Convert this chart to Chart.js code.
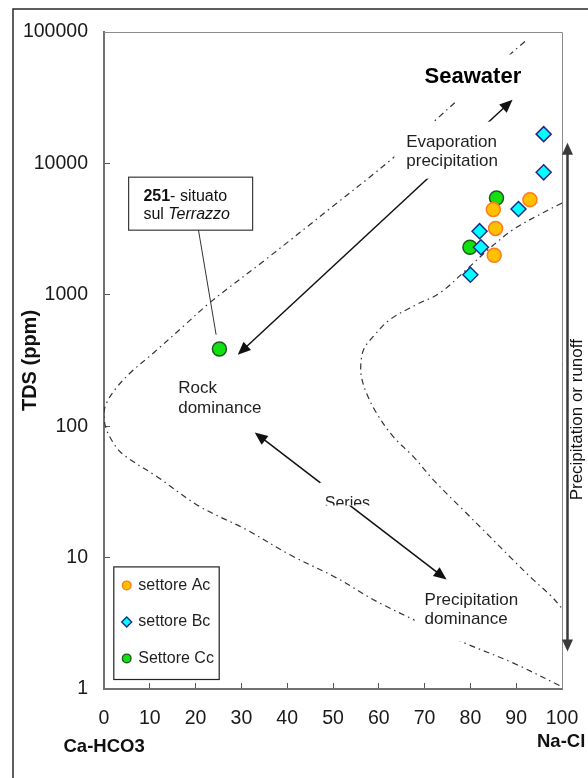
<!DOCTYPE html>
<html>
<head>
<meta charset="utf-8">
<title>Gibbs diagram - TDS vs Na/(Na+Ca)</title>
<script src="https://cdn.jsdelivr.net/npm/chart.js@4/dist/chart.umd.min.js"></script>
<style>
  html, body { margin: 0; padding: 0; background: #fff; overflow: hidden; }
  #wrap { width: 588px; height: 778px; position: relative; }
</style>
</head>
<body>
<div id="wrap"><canvas id="c" width="588" height="778"></canvas></div>
<script>
// ---- axis ticks ----
const xTickValues = [0, 10, 20, 30, 40, 50, 60, 70, 80, 90, 100];
const yTickValues = [1, 10, 100, 1000, 10000, 100000];

// ---- samples: ratio (%) and TDS (ppm) ----
const settoreAcRatio = [93.0, 85.0, 85.5, 85.2];
const settoreAcTds   = [5300, 4450, 3200, 2000];
const settoreBcRatio = [96.0, 96.0, 90.5, 82.0, 82.3, 80.0];
const settoreBcTds   = [16700, 8550, 4500, 3050, 2300, 1420];
const settoreCcRatio = [85.7, 79.9, 25.2];
const settoreCcTds   = [5450, 2300, 387];

// ---- Gibbs envelope boundaries ----
const leftBoundaryRatio = [91.9, 78.3, 63.1, 49.3, 35.5, 23.1, 17.3, 10.8, 5.7, 2.4, 0.4, 0.0, 0.4, 2.0, 4.2, 11.5, 20.9, 31.1, 40.6, 50.8, 60.2, 78.0, 89.3, 100];
const leftBoundaryTds   = [84700, 32700, 11000, 4520, 1880, 871, 575, 361, 254, 190, 146, 122, 97.5, 75, 60.8, 41.5, 24.5, 16.3, 10.5, 7.0, 4.51, 2.30, 1.58, 1.04];
const rightBoundaryRatio = [100, 95.1, 89.3, 83.9, 79.1, 73.3, 68.2, 62.4, 58.8, 56.7, 56.1, 56.2, 57.3, 59.5, 63.1, 67.5, 71.9, 78.4, 84.2, 89.3, 93.7, 97.7, 100];
const rightBoundaryTds   = [5000, 4080, 3130, 2210, 1550, 1030, 841, 647, 482, 384, 303, 239, 179, 126, 83.6, 58.9, 39.1, 23.1, 14.5, 9.6, 6.8, 5.07, 4.1];

const FONT = "'Liberation Sans', Arial, Helvetica, sans-serif";
const TEXT = '#1f1f1f';

const pairs = (xs, ys) => xs.map((x, i) => ({ x: x, y: ys[i] }));

function arrow(ctx, x1, y1, x2, y2, o) {
  const w = o.width || 1.5, head = o.head || 12, half = o.half || 5;
  const ang = Math.atan2(y2 - y1, x2 - x1);
  const cx = Math.cos(ang), cy = Math.sin(ang);
  ctx.save();
  ctx.strokeStyle = o.color; ctx.fillStyle = o.color; ctx.lineWidth = w;
  ctx.beginPath();
  ctx.moveTo(x1 + cx * (head - 2), y1 + cy * (head - 2));
  ctx.lineTo(x2 - cx * (head - 2), y2 - cy * (head - 2));
  ctx.stroke();
  const tip = (tx, ty, dx, dy) => {
    ctx.beginPath();
    ctx.moveTo(tx, ty);
    ctx.lineTo(tx - dx * head - dy * half, ty - dy * head + dx * half);
    ctx.lineTo(tx - dx * head + dy * half, ty - dy * head - dx * half);
    ctx.closePath();
    ctx.fill();
  };
  tip(x2, y2, cx, cy);
  tip(x1, y1, -cx, -cy);
  ctx.restore();
}

function whiteBox(ctx, x, y, x0, x1, y0, y1) {
  ctx.fillStyle = '#fff';
  ctx.fillRect(x + x0, y + y0, x1 - x0, y1 - y0);
}

function textLines(ctx, lines, x, y, step, font, color) {
  ctx.font = font; ctx.fillStyle = color || TEXT;
  ctx.textAlign = 'left'; ctx.textBaseline = 'middle';
  lines.forEach((s, i) => ctx.fillText(s, x, y + i * step));
}

function marker(ctx, style, x, y, r, fill, line, bw) {
  ctx.save();
  ctx.fillStyle = fill; ctx.strokeStyle = line; ctx.lineWidth = bw;
  ctx.beginPath();
  if (style === 'rectRot') {
    ctx.moveTo(x - r, y); ctx.lineTo(x, y - r); ctx.lineTo(x + r, y); ctx.lineTo(x, y + r); ctx.closePath();
  } else {
    ctx.arc(x, y, r, 0, Math.PI * 2);
  }
  ctx.fill(); ctx.stroke();
  ctx.restore();
}

function drawAnnotations(chart) {
  const { ctx, chartArea: a, scales } = chart;
  const xs = scales.x, ys = scales.y;
  const P = (r, t) => [xs.getPixelForValue(r), ys.getPixelForValue(t)];
  ctx.save();

  // Seawater label
  const [swx, swy] = P(70.0, 45900);
  whiteBox(ctx, swx, swy, -7, 105, -22, 25);
  textLines(ctx, ['Seawater'], swx, swy, 0, 'bold 22px ' + FONT, '#000');

  // evaporation-precipitation arrow
  const [e1x, e1y] = P(89.2, 30500), [e2x, e2y] = P(29.2, 350);
  arrow(ctx, e1x, e1y, e2x, e2y, { color: '#111', width: 1.5, head: 13, half: 5.5 });

  // series arrow
  const [s1x, s1y] = P(32.9, 89.7), [s2x, s2y] = P(74.8, 6.8);
  arrow(ctx, s1x, s1y, s2x, s2y, { color: '#111', width: 1.5, head: 13, half: 5.5 });

  // Evaporation / precipitation label
  const [evx, evy] = P(66.0, 14380);
  whiteBox(ctx, evx, evy, -12, 98, -21, 36);
  textLines(ctx, ['Evaporation', 'precipitation'], evx, evy, 19, '17px ' + FONT);

  // Rock dominance label
  const [rkx, rky] = P(16.2, 193);
  textLines(ctx, ['Rock', 'dominance'], rkx, rky, 20, '17px ' + FONT);

  // Series label (clipped by its box)
  const [srx, sry] = P(48.2, 23.8);
  whiteBox(ctx, srx, sry, -5, 47, -25.5, -2.5);
  ctx.save();
  ctx.beginPath(); ctx.rect(srx - 5, sry - 25.5, 52, 23); ctx.clip();
  ctx.font = '16px ' + FONT; ctx.fillStyle = TEXT; ctx.textAlign = 'left'; ctx.textBaseline = 'alphabetic';
  ctx.fillText('Series', srx, sry);
  ctx.restore();

  // Precipitation dominance label
  const [pdx, pdy] = P(70.0, 4.72);
  whiteBox(ctx, pdx, pdy, -10, 100, -16, 41);
  textLines(ctx, ['Precipitation', 'dominance'], pdx, pdy, 19.3, '17px ' + FONT);

  // callout for sample 251
  const [gx, gy] = P(settoreCcRatio[2], settoreCcTds[2]);
  ctx.strokeStyle = '#333'; ctx.lineWidth = 1;
  ctx.beginPath(); ctx.moveTo(gx - 21, gy - 119.3); ctx.lineTo(gx - 3.3, gy - 14.3); ctx.stroke();
  ctx.fillStyle = '#fff';
  ctx.fillRect(gx - 91.3, gy - 172.3, 124, 53);
  ctx.strokeStyle = '#3a3a3a'; ctx.lineWidth = 1.2;
  ctx.strokeRect(gx - 91.3 + 0.5, gy - 172.3 + 0.5, 124, 53);
  ctx.textBaseline = 'middle'; ctx.textAlign = 'left'; ctx.fillStyle = '#111';
  let tx = gx - 76;
  ctx.font = 'bold 16px ' + FONT; ctx.fillText('251', tx, gy - 152.6);
  tx += ctx.measureText('251').width;
  ctx.font = '16px ' + FONT; ctx.fillText('- situato', tx, gy - 152.6);
  tx = gx - 76;
  ctx.fillText('sul ', tx, gy - 134.3);
  tx += ctx.measureText('sul ').width;
  ctx.font = 'italic 16px ' + FONT; ctx.fillText('Terrazzo', tx, gy - 134.3);

  // precipitation or runoff double arrow, just right of the plot
  const [vx, vTop] = P(101.2, 14350), [, vBot] = P(101.2, 1.93);
  arrow(ctx, vx, vTop, vx, vBot, { color: '#3a3a3a', width: 2.5, head: 12, half: 5.5 });
  const [rx, ry] = P(103.4, 112);
  ctx.save();
  ctx.translate(rx, ry); ctx.rotate(-Math.PI / 2);
  ctx.font = '17px ' + FONT; ctx.fillStyle = '#111'; ctx.textAlign = 'center'; ctx.textBaseline = 'middle';
  ctx.fillText('Precipitation or runoff', 0, 0);
  ctx.restore();

  // legend
  const bx = a.left + 9.3, by = a.bottom - 122.6;
  ctx.fillStyle = '#fff'; ctx.fillRect(bx, by, 105.4, 112.6);
  ctx.strokeStyle = '#222'; ctx.lineWidth = 1.2; ctx.strokeRect(bx + 0.5, by + 0.5, 105.4, 112.6);
  chart.data.datasets.slice(0, 3).forEach((d, i) => {
    const cy = a.bottom - 103.6 + i * 36.5;
    marker(ctx, d.pointStyle, a.left + 22.7, cy, d.pointStyle === 'rectRot' ? 5 : 4.3, d.backgroundColor, d.borderColor, 1.4);
    ctx.font = '16px ' + FONT; ctx.fillStyle = TEXT; ctx.textAlign = 'left'; ctx.textBaseline = 'middle';
    ctx.fillText(d.label, a.left + 34.3, cy);
  });

  // end-member labels under the x axis
  ctx.font = 'bold 18.5px ' + FONT; ctx.fillStyle = '#111'; ctx.textBaseline = 'middle'; ctx.textAlign = 'left';
  ctx.fillText('Ca-HCO3', 63.5, 746.5);
  ctx.fillText('Na-Cl', 537, 741.5);

  ctx.restore();
}

const gibbsOverlay = {
  id: 'gibbsOverlay',
  beforeDraw(chart) {
    const { ctx, width, height } = chart;
    ctx.save();
    ctx.fillStyle = '#fff'; ctx.fillRect(0, 0, width, height);
    ctx.strokeStyle = '#2a2a2a'; ctx.lineWidth = 1.5;
    ctx.beginPath(); ctx.moveTo(13, height + 5); ctx.lineTo(13, 9); ctx.lineTo(width + 5, 9); ctx.stroke();
    ctx.restore();
  },
  beforeDatasetsDraw(chart) {
    const { ctx, chartArea: a } = chart;
    ctx.save();
    ctx.strokeStyle = '#8c8c8c'; ctx.lineWidth = 1;
    ctx.beginPath();
    ctx.moveTo(a.left, a.top + 0.5); ctx.lineTo(a.right + 0.5, a.top + 0.5); ctx.lineTo(a.right + 0.5, a.bottom);
    ctx.stroke();
    ctx.restore();
  },
  afterDatasetDraw(chart, args) {
    if (args.index === 3) drawAnnotations(chart);
  }
};

const boundaryStyle = {
  showLine: true, pointRadius: 0, borderColor: '#333', borderWidth: 1.2,
  borderDash: [6, 4, 1.5, 4], tension: 0.35, fill: false
};

new Chart(document.getElementById('c'), {
  type: 'scatter',
  data: {
    datasets: [
      { label: 'settore Ac', data: pairs(settoreAcRatio, settoreAcTds), pointStyle: 'circle', pointRadius: 7,
        backgroundColor: '#FFC000', borderColor: '#FF7A1A', borderWidth: 1.5 },
      { label: 'settore Bc', data: pairs(settoreBcRatio, settoreBcTds), pointStyle: 'rectRot', pointRadius: 7.5,
        backgroundColor: '#00FFFF', borderColor: '#1F2A8A', borderWidth: 1.5 },
      { label: 'Settore Cc', data: pairs(settoreCcRatio, settoreCcTds), pointStyle: 'circle', pointRadius: 7,
        backgroundColor: '#11E011', borderColor: '#1E5A1E', borderWidth: 1.5 },
      Object.assign({ label: 'boundary-left', data: pairs(leftBoundaryRatio, leftBoundaryTds) }, boundaryStyle),
      Object.assign({ label: 'boundary-right', data: pairs(rightBoundaryRatio, rightBoundaryTds) }, boundaryStyle)
    ]
  },
  options: {
    responsive: false,
    devicePixelRatio: 1,
    animation: false,
    events: [],
    layout: { padding: { top: 32, right: 26, bottom: 0, left: 0 } },
    plugins: { legend: { display: false }, tooltip: { enabled: false } },
    scales: {
      x: {
        type: 'linear', min: 0, max: 100, position: 'bottom',
        afterBuildTicks: s => { s.ticks = xTickValues.map(v => ({ value: v })); },
        afterFit: s => { s.height = 89; s.paddingLeft = 0; s.paddingRight = 0; },
        ticks: { font: { family: FONT, size: 19.5 }, color: '#1a1a1a', padding: 24, maxRotation: 0, autoSkip: false },
        grid: { drawOnChartArea: false, drawTicks: true, tickLength: -6, color: '#555', lineWidth: 1 },
        border: { color: '#707070', width: 2 }
      },
      y: {
        type: 'logarithmic', min: 1, max: 100000, position: 'left',
        afterBuildTicks: s => { s.ticks = yTickValues.map(v => ({ value: v })); },
        afterFit: s => { s.width = 104; s.paddingTop = 0; s.paddingBottom = 0; },
        ticks: { font: { family: FONT, size: 19.5 }, color: '#1a1a1a', padding: 22, autoSkip: false,
                 callback: v => String(v) },
        grid: { drawOnChartArea: false, drawTicks: true, tickLength: -6, color: '#555', lineWidth: 1 },
        border: { color: '#707070', width: 2 },
        title: { display: true, text: 'TDS (ppm)', font: { family: FONT, size: 20, weight: 'bold' },
                 color: '#111', padding: { top: 18, bottom: 0 } }
      }
    }
  },
  plugins: [gibbsOverlay]
});
</script>
</body>
</html>
